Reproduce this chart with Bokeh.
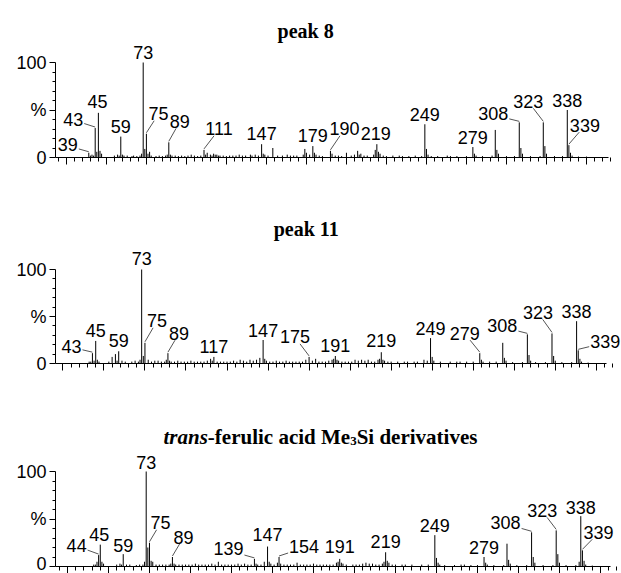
from bokeh.plotting import figure
from bokeh.models import Range1d, FixedTicker, ColumnDataSource
from bokeh.layouts import column
from bokeh.embed import file_html
from bokeh.resources import INLINE
from bokeh.core.properties import value

# ---------------- DATA ----------------
# peak 8
P1_MZ = [39, 40, 41, 42, 43, 44, 45, 46, 47, 55, 57, 58, 59, 60, 61, 63, 66, 67, 69, 71,
         72, 73, 74, 75, 76, 77, 78, 81, 83, 85, 87, 88, 89, 90, 91, 93, 95, 97, 99, 101,
         103, 105, 107, 109, 111, 112, 113, 115, 116, 117, 118, 119, 120, 121, 123, 125, 127, 129, 131, 133,
         135, 137, 140, 141, 143, 145, 147, 148, 149, 151, 154, 157, 160, 163, 165, 167, 169, 173, 174, 175,
         177, 179, 180, 181, 183, 185, 190, 191, 193, 195, 197, 200, 203, 205, 207, 208, 209, 211, 213, 217,
         218, 219, 220, 221, 223, 225, 229, 233, 235, 239, 243, 247, 249, 250, 251, 253, 257, 263, 265, 269,
         275, 279, 280, 281, 285, 291, 293, 294, 295, 300, 305, 308, 309, 310, 315, 321, 323, 324, 325, 330,
         335, 338, 339, 340, 341, 345, 350]
P1_INT = [5, 2, 3, 2, 31, 6, 47, 7, 4, 2, 3, 2, 22, 3, 2, 2, 1.5, 2, 1.5, 2,
          4, 100, 9, 25, 4, 6, 2, 1.5, 2, 1.5, 2, 3, 16, 3, 2, 2, 1.5, 2, 1.5, 2,
          3, 2, 1.5, 2, 8, 3, 5, 3, 2, 4, 3, 3, 2, 2, 2, 1.5, 2, 2, 2, 3,
          2, 2, 3, 2, 3, 2, 14, 4, 3, 2, 10, 2, 2, 3, 2, 2, 2, 3, 9, 5,
          3, 12, 5, 3, 2, 1.5, 7, 4, 2, 2, 1.5, 5, 2, 3, 7, 3, 4, 2, 2, 3,
          8, 14, 6, 4, 2, 1.5, 2, 2, 1.5, 1.5, 2, 1.5, 35, 9, 3, 1.5, 1.5, 2, 1.5, 1.5,
          1.5, 11, 4, 2, 1.5, 2, 29, 8, 4, 1.5, 1.5, 37, 10, 4, 1.5, 1.5, 37, 12, 4, 1.5,
          1.5, 50, 13, 5, 2, 1, 1]
P1_LABELS = [39, 43, 45, 59, 73, 75, 89, 111, 147, 179, 190, 219, 249, 279, 308, 323, 338, 339]

# peak 11
P2_MZ = [41, 42, 43, 44, 45, 46, 47, 53, 55, 57, 58, 59, 61, 63, 67, 69, 71, 72, 73, 74,
         75, 77, 79, 81, 83, 85, 87, 88, 89, 90, 91, 93, 95, 97, 99, 101, 103, 105, 107, 109,
         111, 113, 115, 116, 117, 119, 121, 123, 125, 127, 129, 131, 133, 135, 137, 139, 141, 143, 145, 147,
         148, 149, 151, 153, 155, 157, 159, 161, 163, 165, 167, 169, 171, 173, 175, 177, 179, 181, 183, 185,
         187, 189, 190, 191, 192, 193, 195, 197, 199, 201, 203, 205, 207, 209, 211, 213, 215, 217, 218, 219,
         220, 221, 223, 225, 229, 233, 235, 239, 241, 245, 247, 249, 250, 251, 255, 261, 265, 267, 271, 275,
         279, 280, 281, 285, 289, 293, 294, 295, 299, 305, 308, 309, 310, 313, 319, 323, 324, 325, 329, 335,
         338, 339, 340, 341, 345]
P2_INT = [2, 2, 11, 3, 24, 4, 2, 2, 7, 10, 3, 13, 3, 2, 2, 3, 2, 4, 100, 8,
          22, 4, 2, 3, 3, 2, 2, 4, 11, 3, 2, 2, 3, 2, 2, 2, 3, 2, 2, 2,
          2, 3, 5, 3, 7, 2, 2, 2, 2, 2, 3, 2, 4, 3, 2, 4, 3, 4, 6, 25,
          5, 3, 2, 2, 3, 2, 2, 3, 2, 2, 2, 2, 2, 4, 7, 3, 5, 2, 2, 2,
          3, 4, 5, 8, 4, 3, 2, 2, 2, 2, 4, 3, 4, 3, 4, 2, 2, 4, 5, 12,
          4, 3, 2, 2, 2, 2, 2, 2, 2, 4, 3, 27, 7, 3, 2, 2, 2, 2, 2, 2,
          11, 4, 2, 2, 2, 22, 6, 3, 1.5, 1.5, 31, 9, 3, 1.5, 1.5, 32, 8, 3, 1.5, 1.5,
          45, 14, 5, 2, 1]
P2_LABELS = [43, 45, 59, 73, 75, 89, 117, 147, 175, 191, 219, 249, 279, 308, 323, 338, 339]

# trans-ferulic acid Me3Si derivatives
P3_MZ = [41, 42, 43, 44, 45, 46, 47, 55, 57, 58, 59, 61, 63, 67, 69, 71, 72, 73, 74, 75,
         76, 77, 79, 81, 83, 85, 87, 88, 89, 90, 91, 93, 95, 97, 99, 101, 103, 105, 107, 109,
         111, 113, 115, 117, 119, 121, 123, 125, 127, 129, 131, 133, 135, 137, 139, 140, 141, 143, 145, 147,
         148, 149, 151, 153, 154, 155, 157, 159, 161, 163, 165, 167, 169, 171, 173, 175, 177, 179, 181, 183,
         185, 187, 189, 190, 191, 192, 193, 195, 199, 201, 203, 205, 207, 209, 211, 213, 215, 217, 218, 219,
         220, 221, 223, 225, 229, 231, 235, 241, 245, 249, 250, 251, 252, 255, 261, 265, 267, 271, 275, 279,
         280, 281, 285, 291, 293, 294, 295, 299, 305, 308, 309, 310, 315, 321, 323, 324, 325, 329, 335, 337,
         338, 339, 340, 341, 345]
P3_INT = [2, 2, 5, 12, 23, 5, 3, 2, 3, 2, 13, 2, 2, 1.5, 2, 2, 5, 100, 20, 25,
          6, 5, 2, 2, 2, 2, 2, 3, 10, 3, 2, 2, 2, 2, 2, 2, 3, 2, 2, 2,
          2, 3, 2, 5, 2, 2, 2, 2, 2, 3, 2, 3, 2, 2, 8, 3, 2, 2, 5, 21,
          5, 3, 2, 4, 10, 3, 2, 2, 2, 2, 4, 2, 2, 2, 2, 3, 2, 2, 2, 2,
          2, 2, 4, 5, 8, 4, 3, 2, 2, 2, 2, 3, 4, 3, 3, 2, 2, 3, 5, 15,
          6, 4, 2, 2, 2, 2, 2, 2, 2, 33, 9, 4, 2, 1.5, 1.5, 2, 2, 1.5, 1.5, 10,
          4, 2, 1.5, 1.5, 24, 7, 3, 1.5, 1.5, 36, 10, 4, 1.5, 1.5, 38, 13, 4, 1.5, 1.5, 5,
          53, 17, 6, 2, 1]
P3_LABELS = [44, 45, 59, 73, 75, 89, 139, 147, 154, 191, 219, 249, 279, 308, 323, 338, 339]

X_MAJOR = list(range(25, 351, 25))
X_MINOR = list(range(20, 366, 5))
Y_TICKS = [0, 50, 100]
Y_TICK_TEXT = {0: "0", 50: "%", 100: "100"}
Y_MINOR = list(range(10, 100, 10))

# ---------------- LAYOUT (pixel offsets of labels from peak tops) ----------------
P1_OFF = [(-21, -8), (-22, -9), (-1, -11), (0, -10), (0, -10), (12, -20), (11, -21), (15, -21), (0, -11),
          (0, -11), (14, -22), (-1, -11), (0, -10), (0, -10), (-26, -9), (-15, -21), (0, -10), (16, -20)]
P2_OFF = [(-21, -7), (0, -10), (0, -11), (0, -11), (12, -22), (11, -20), (0, -10), (0, -10), (-14, -20),
          (0, -10), (0, -12), (0, -10), (-15, -20), (-25, -9), (-14, -21), (0, -10), (27, -9)]
P3_OFF = [(-22, -10), (-1, -10), (0, -9), (0, -9), (11, -20), (11, -20), (-26, -10), (0, -12), (25, -11),
          (0, -12), (0, -11), (0, -10), (0, -10), (-26, -10), (-14, -20), (0, -9), (16, -18)]

FIG_W = 621
LABEL_FONT = value("Liberation Sans")
TITLE_FONT = value("Liberation Serif")


def make_panel(mz, inten, labels, offs, geom):
    L, fw, xs, ppm, ax_end, ftop, y0, ppp, B = geom
    fh = y0 - ftop
    xe = xs + fw / ppm
    ye = fh / ppp
    p = figure(width=FIG_W, height=fh + B, x_range=Range1d(xs, xe), y_range=Range1d(0, ye),
               output_backend="svg", toolbar_location=None,
               min_border_left=L, min_border_right=FIG_W - L - fw, min_border_top=0, min_border_bottom=B)
    p.outline_line_color = None
    p.xgrid.visible = False
    p.ygrid.visible = False
    p.background_fill_color = "white"
    p.border_fill_color = "white"

    xa = p.xaxis[0]
    xa.ticker = FixedTicker(ticks=X_MAJOR, minor_ticks=X_MINOR)
    xa.bounds = (xs, ax_end)
    xa.major_label_overrides = {t: "" for t in X_MAJOR}
    xa.major_label_text_font_size = "1px"
    xa.major_label_standoff = 0
    xa.major_tick_out = 7
    xa.major_tick_in = 0
    xa.minor_tick_out = 4
    xa.minor_tick_in = 0
    xa.axis_line_color = "black"
    xa.major_tick_line_color = "black"
    xa.minor_tick_line_color = "black"

    ya = p.yaxis[0]
    ya.ticker = FixedTicker(ticks=Y_TICKS, minor_ticks=Y_MINOR)
    ya.bounds = (0, 100)
    ya.major_label_overrides = Y_TICK_TEXT
    ya.major_label_text_font = "Liberation Sans"
    ya.major_label_text_font_size = "18px"
    ya.major_label_text_color = "black"
    ya.major_label_standoff = 3
    ya.major_tick_out = 6
    ya.major_tick_in = 0
    ya.minor_tick_out = 3
    ya.minor_tick_in = 0
    ya.axis_line_color = "black"
    ya.major_tick_line_color = "black"
    ya.minor_tick_line_color = "black"

    src = ColumnDataSource(dict(mz=mz, inten=inten))
    p.segment(x0="mz", y0=0, x1="mz", y1="inten", source=src, line_color="black", line_width=1)

    lut = dict(zip(mz, inten))
    lx, ly, lt, dxs, dys = [], [], [], [], []
    x0s, y0s, x1s, y1s = [], [], [], []
    for m, (dx, dy) in zip(labels, offs):
        I = lut[m]
        txt = str(m)
        lx.append(m); ly.append(I); lt.append(txt); dxs.append(dx); dys.append(dy)
        if abs(dx) >= 5:
            hw = 5.0 * len(txt) + 1
            hh = 7.0
            t = min(hw / abs(dx), hh / abs(dy) if dy else 1e9)
            sx, sy = dx * (1 - t), dy * (1 - t)
            x0s.append(m + sx / ppm); y0s.append(I - sy / ppp)
            x1s.append(m); y1s.append(I + 1.0 / ppp)
    p.segment(x0=x0s, y0=y0s, x1=x1s, y1=y1s, line_color="#555555", line_width=1)
    p.text(x=lx, y=ly, text=lt, x_offset=dxs, y_offset=dys, text_align="center",
           text_baseline="middle", text_font=LABEL_FONT, text_font_size="18px", text_color="black")
    return p, xs, ppm, y0, ppp, L


def page_to_data(px, py, xs, ppm, y0, ppp, L):
    return xs + (px - L) / ppm, (y0 - py) / ppp


# geometry: left border, frame width, x start, px per m/z, axis end, frame top (page), zero line (page), px per %, bottom border
G1 = (53, 567, 18.2, 1.606, 363.8, 0, 157, 0.95, 41)
G2 = (52, 568, 20.5, 1.650, 356.2, 198, 363, 0.94, 39)
G3 = (55, 565, 17.7, 1.640, 356.0, 402, 566, 0.95, 7)

p1, *c1 = make_panel(P1_MZ, P1_INT, P1_LABELS, P1_OFF, G1)
p2, *c2 = make_panel(P2_MZ, P2_INT, P2_LABELS, P2_OFF, G2)
p3, *c3 = make_panel(P3_MZ, P3_INT, P3_LABELS, P3_OFF, G3)

tx, ty = page_to_data(304, 30.5, *c1)
p1.text(x=[tx], y=[ty], text=["peak 8"], text_align="center", text_baseline="alphabetic",
        text_font=TITLE_FONT, text_font_style="bold", text_font_size="20px", text_color="black")
tx, ty = page_to_data(304, 228, *c2)
p2.text(x=[tx], y=[ty], text=["peak 11"], text_align="center", text_baseline="alphabetic",
        text_font=TITLE_FONT, text_font_style="bold", text_font_size="20px", text_color="black")

fs = 21.0
parts = [("trans", "bold italic", fs, 2112, 0), ("-ferulic acid Me", "bold", fs, 6776, 0),
         ("3", "bold", fs * 0.62, 500, 4), ("Si derivatives", "bold", fs, 5750, 0)]
px = 163.0
for txt, style, size, w1000, yoff in parts:
    tx, ty = page_to_data(px, 436.5, *c3)
    p3.text(x=[tx], y=[ty], text=[txt], y_offset=yoff, text_align="left", text_baseline="alphabetic",
            text_font=TITLE_FONT, text_font_style=style, text_font_size="%.1fpx" % size, text_color="black")
    px += w1000 * size / 1000.0

layout = column(p1, p2, p3, spacing=0)
open("out.html", "w").write(file_html(layout, INLINE))
